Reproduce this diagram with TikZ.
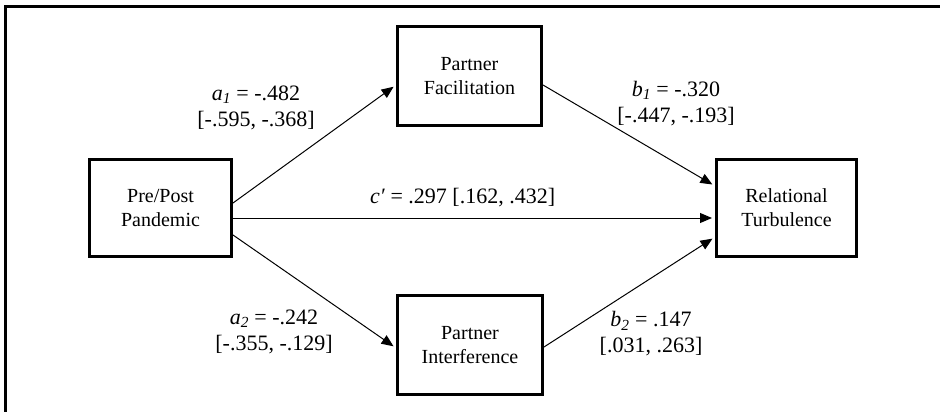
\documentclass[tikz,border=0pt]{standalone}
\usepackage{fontspec}
\setmainfont{Liberation Serif}
\usetikzlibrary{arrows.meta}
\begin{document}
\begin{tikzpicture}[x=1pt,y=-1pt,
  varbox/.style={draw,line width=3pt,inner sep=0pt,align=center,
    font=\fontsize{20}{24}\selectfont},
  coef/.style={inner sep=0pt,align=center,font=\fontsize{22}{26}\selectfont},
  path/.style={line width=1pt,-{Triangle[length=12pt,width=10pt]},shorten >=3pt}]
\useasboundingbox (0,0) rectangle (940,412);
\draw[line width=2.5pt] (5.3,412) -- (5.3,6.5) -- (940,6.5);
\node[varbox,minimum width=142pt,minimum height=97pt] (pre) at (160.5,208) {Pre/Post\\Pandemic};
\node[varbox,minimum width=144pt,minimum height=99pt] (fac) at (469.5,76) {Partner\\Facilitation};
\node[varbox,minimum width=145pt,minimum height=99pt] (int) at (470,345) {Partner\\Interference};
\node[varbox,minimum width=140pt,minimum height=97pt] (rel) at (786.5,208) {Relational\\Turbulence};
\draw[path] (pre.east |- 0,203) -- (fac.west |- 0,85);
\draw[path] (pre.east |- 0,218) -- (rel.west |- 0,218);
\draw[path] (pre.east |- 0,235) -- (int.west |- 0,348);
\draw[path] (fac.east |- 0,85) -- (rel.west |- 0,186);
\draw[path] (int.east |- 0,347) -- (rel.west |- 0,237);
\node[coef] (la1) at (256,107.5) {\textit{a\textsubscript{1}} = -.482\\{}[-.595, -.368]};
\node[coef] (lb1) at (676,103.5) {\textit{b\textsubscript{1}} = -.320\\{}[-.447, -.193]};
\node[coef,anchor=base west] (lc) at (370,203) {\textit{c′} = .297 [.162, .432]};
\node[coef] (la2) at (274,332) {\textit{a\textsubscript{2}} = -.242\\{}[-.355, -.129]};
\node[coef] (lb2) at (651,334) {\textit{b\textsubscript{2}} = .147\\{}[.031, .263]};
\end{tikzpicture}
\end{document}
